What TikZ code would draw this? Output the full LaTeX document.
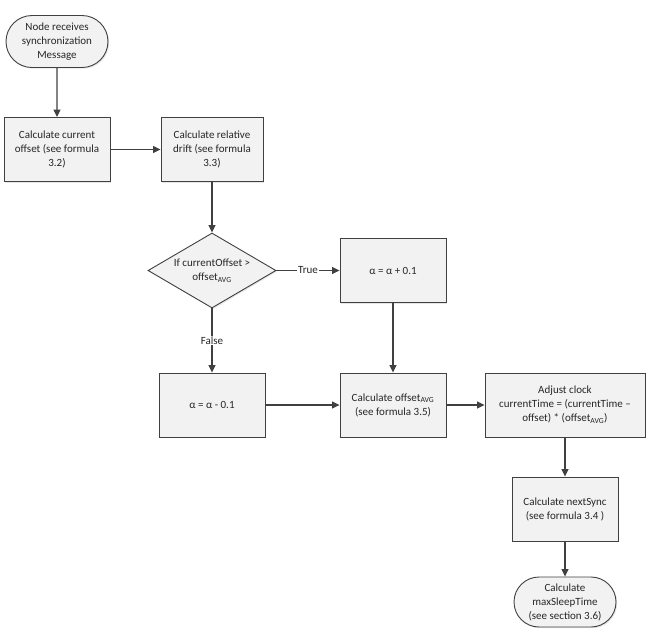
\documentclass[tikz,border=0pt]{standalone}
\usepackage{fontspec}
\setmainfont{Carlito}
\usetikzlibrary{shapes.geometric,shapes.misc,arrows.meta,shadows,positioning}

\tikzset{
  process/.style={rectangle, draw=black!75, line width=0.9pt, fill=black!5,
    drop shadow={shadow xshift=1.2pt, shadow yshift=-1.2pt, opacity=0.2},
    minimum width=106pt, minimum height=64pt, align=center,
    inner sep=2pt, text=black!85, font=\fontsize{11}{14}\selectfont},
  terminal/.style={process, rounded rectangle, minimum height=52pt},
  decision/.style={process, diamond, shape aspect=1.7,
    inner sep=-1pt, minimum width=128pt, minimum height=75pt},
  flow/.style={draw=black!75, line width=1.1pt, -{Triangle[length=7.5pt,width=7pt]}},
  branch/.style={fill=white, inner sep=1pt, text=black!85, font=\fontsize{11}{14}\selectfont}
}

\begin{document}
\begin{tikzpicture}[x=1pt,y=-1pt]
  \useasboundingbox (0,0) rectangle (651,641);

  \node[terminal] (receive) at (57,41.5) {Node receives\\synchronization\\Message};
  \node[process] (offset) at (57,149.5) {Calculate current\\offset (see formula\\3.2)};
  \node[process, minimum width=102pt] (drift) at (212,149.5) {Calculate relative\\drift (see formula\\3.3)};
  \node[decision] (check) at (212,270.5) {If currentOffset >\\offset\textsubscript{AVG}};
  \node[process] (incr) at (393,270.5) {α = α + 0.1};
  \node[process] (decr) at (212,405) {α = α - 0.1};
  \node[process] (avg) at (393,405) {Calculate offset\textsubscript{AVG}\\(see formula 3.5)};
  \node[process, minimum width=160pt] (adjust) at (565,405)
    {Adjust clock\\currentTime = (currentTime –\\offset) * (offset\textsubscript{AVG})};
  \node[process] (nextsync) at (565,509) {Calculate nextSync\\(see formula 3.4 )};
  \node[terminal, minimum height=50pt] (sleep) at (565,602) {Calculate\\maxSleepTime\\(see section 3.6)};

  \draw[flow] (receive) -- (offset);
  \draw[flow] (offset) -- (drift);
  \draw[flow] (drift) -- (check);
  \draw[flow] (check) -- node[branch] {True} (incr);
  \draw[flow] (check) -- node[branch] {False} (decr);
  \draw[flow] (incr) -- (avg);
  \draw[flow] (decr) -- (avg);
  \draw[flow] (avg) -- (adjust);
  \draw[flow] (adjust) -- (nextsync);
  \draw[flow] (nextsync) -- (sleep);
\end{tikzpicture}
\end{document}
